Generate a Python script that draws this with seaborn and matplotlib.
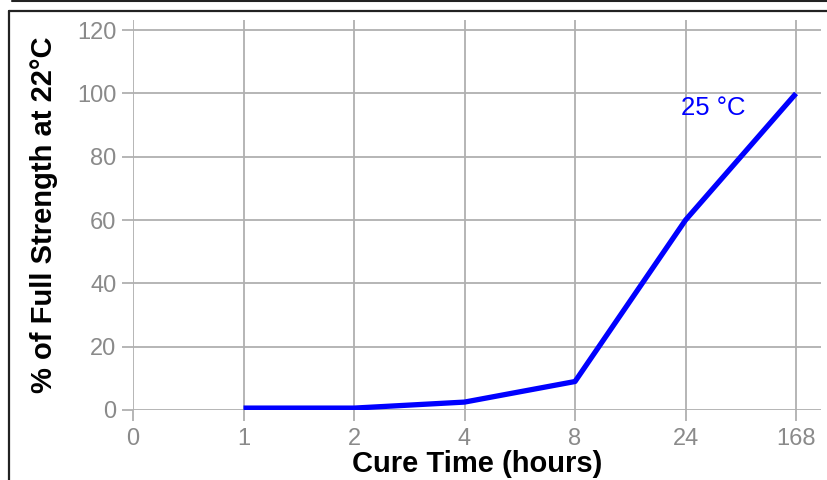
import matplotlib
matplotlib.use("Agg")
import matplotlib.pyplot as plt
from matplotlib.lines import Line2D
import seaborn as sns
import pandas as pd

# Data
tick_labels = ["0", "1", "2", "4", "8", "24", "168"]
cure_hours = [1, 2, 4, 8, 24, 168]
strength_pct = [0.6, 0.6, 2.5, 9, 60, 100]
y_ticks = [0, 20, 40, 60, 80, 100, 120]
series_label = "25 °C"

sns.set_theme(style="white")
plt.rcParams["font.family"] = ["Liberation Sans", "DejaVu Sans"]

df = pd.DataFrame({
    "pos": [tick_labels.index(str(h)) for h in cure_hours],
    "strength": strength_pct,
})

W, H = 828, 480
fig = plt.figure(figsize=(W / 100, H / 100), dpi=100)
ax = fig.add_axes([133 / W, (H - 410) / H, (821 - 133) / W, (410 - 20) / H])

grid_c = "#b0b0b0"
sns.lineplot(data=df, x="pos", y="strength", ax=ax, color="#0000ff",
             linewidth=3.8, solid_capstyle="butt", zorder=3)

ax.set_xlim(0, 6.226)
ax.set_ylim(0, 123.2)
ax.set_xticks(range(len(tick_labels)))
ax.set_xticklabels(tick_labels)
ax.set_yticks(y_ticks)
ax.set_yticklabels([str(v) for v in y_ticks])

for s in ax.spines.values():
    s.set_visible(False)
ax.grid(True, color=grid_c, linewidth=1.3)
ax.tick_params(axis="both", which="both", length=8, width=1.3, color=grid_c,
               labelcolor="#8a8a8a", labelsize=17, bottom=True, left=True)
ax.tick_params(axis="x", pad=5)
ax.tick_params(axis="y", pad=4)

ax.set_xlabel("Cure Time (hours)", fontsize=21, fontweight="bold",
              color="black", labelpad=0)
ax.set_ylabel("% of Full Strength at 22°C", fontsize=21, fontweight="bold",
              color="black", labelpad=14)

ax.text(5.25, 95.4, series_label, color="#0000ff", fontsize=18.5,
        ha="center", va="center")

# Page frame lines
fig.add_artist(Line2D([12 / W, 1], [1 - 1 / H, 1 - 1 / H], color="#222222",
                      linewidth=1.5, transform=fig.transFigure))
fig.add_artist(Line2D([9 / W, 1], [1 - 11 / H, 1 - 11 / H], color="#222222",
                      linewidth=1.6, transform=fig.transFigure))
fig.add_artist(Line2D([9 / W, 9 / W], [1 - 11 / H, 0], color="#222222",
                      linewidth=1.6, transform=fig.transFigure))

fig.savefig("out.png", dpi=100)
